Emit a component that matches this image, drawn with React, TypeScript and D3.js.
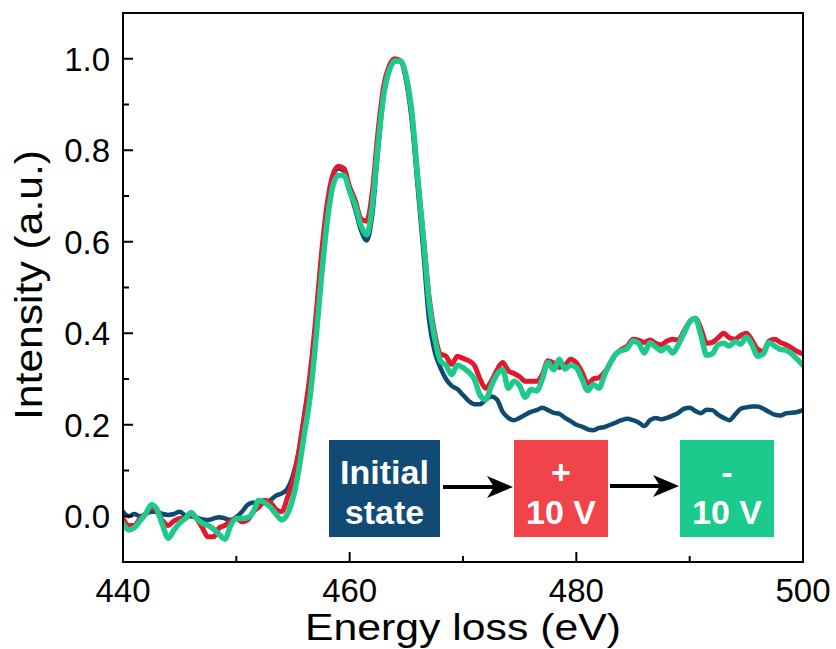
import React from "react";
import * as d3 from "d3";

// Energy grid (eV) shared by the three spectra
const energy = [
  440, 440.5, 441, 441.5, 442, 442.5, 443, 443.5, 444, 444.5, 445, 445.5, 446, 446.5, 447, 447.5,
  448, 448.5, 449, 449.5, 450, 450.5, 451, 451.5, 452, 452.5, 453, 453.5, 454, 454.5, 455, 455.5,
  456, 456.5, 457, 457.5, 458, 458.5, 459, 459.5, 460, 460.5, 461, 461.5, 462, 462.5, 463, 463.5,
  464, 464.5, 465, 465.5, 466, 466.5, 467, 467.5, 468, 468.5, 469, 469.5, 470, 470.5, 471, 471.5,
  472, 472.5, 473, 473.5, 474, 474.5, 475, 475.5, 476, 476.5, 477, 477.5, 478, 478.5, 479, 479.5,
  480, 480.5, 481, 481.5, 482, 482.5, 483, 483.5, 484, 484.5, 485, 485.5, 486, 486.5, 487, 487.5,
  488, 488.5, 489, 489.5, 490, 490.5, 491, 491.5, 492, 492.5, 493, 493.5, 494, 494.5, 495, 495.5,
  496, 496.5, 497, 497.5, 498, 498.5, 499, 499.5, 500,
];

// Normalised intensity, initial state
const initialState = [
  0.01, 0.0, 0.005, 0.0, 0.005, 0.01, 0.01, 0.005, 0.003, 0.005, 0.01, 0.002, 0.0, -0.003, -0.007, -0.008,
  -0.005, -0.002, -0.005, -0.008, -0.002, 0.01, 0.025, 0.03, 0.025, 0.03, 0.035, 0.045, 0.05, 0.06, 0.09, 0.14,
  0.22, 0.3, 0.42, 0.56, 0.67, 0.74, 0.76, 0.755, 0.71, 0.67, 0.625, 0.603, 0.66, 0.8, 0.92, 0.975,
  0.995, 0.995, 0.95, 0.86, 0.72, 0.58, 0.43, 0.36, 0.325, 0.3, 0.285, 0.278, 0.265, 0.252, 0.245, 0.245,
  0.255, 0.262, 0.255, 0.228, 0.215, 0.21, 0.215, 0.222, 0.228, 0.232, 0.237, 0.232, 0.226, 0.224, 0.215, 0.208,
  0.2, 0.196, 0.19, 0.188, 0.193, 0.195, 0.2, 0.205, 0.21, 0.213, 0.21, 0.205, 0.197, 0.21, 0.215, 0.212,
  0.215, 0.22, 0.226, 0.235, 0.237, 0.23, 0.225, 0.233, 0.232, 0.222, 0.215, 0.21, 0.222, 0.235, 0.238, 0.24,
  0.24, 0.235, 0.228, 0.222, 0.22, 0.225, 0.226, 0.228, 0.232,
];

// Normalised intensity after +10 V
const plus10V = [
  -0.005, -0.02, -0.02, -0.005, 0.005, 0.02, 0.01, -0.01, -0.02, -0.01, -0.005, -0.005, 0.005, -0.005, -0.025, -0.045,
  -0.045, -0.025, -0.02, -0.01, -0.005, -0.012, -0.008, 0.01, 0.02, 0.035, 0.03, 0.015, 0.01, 0.04, 0.08, 0.14,
  0.22, 0.31, 0.43, 0.57, 0.68, 0.745, 0.765, 0.76, 0.72, 0.69, 0.65, 0.645, 0.71, 0.84, 0.94, 0.985,
  1.0, 0.995, 0.955, 0.875, 0.74, 0.61, 0.48, 0.4, 0.355, 0.35, 0.332, 0.35, 0.345, 0.34, 0.33, 0.3,
  0.28, 0.295, 0.32, 0.336, 0.318, 0.312, 0.305, 0.295, 0.295, 0.295, 0.31, 0.34, 0.335, 0.325, 0.33, 0.343,
  0.335, 0.315, 0.29, 0.3, 0.303, 0.315, 0.335, 0.355, 0.365, 0.372, 0.387, 0.385, 0.38, 0.385, 0.378, 0.375,
  0.383, 0.387, 0.385, 0.405, 0.425, 0.433, 0.41, 0.378, 0.38, 0.39, 0.4, 0.39, 0.387, 0.395, 0.4, 0.385,
  0.365, 0.36, 0.383, 0.387, 0.38, 0.375, 0.368, 0.36, 0.355,
];

// Normalised intensity after -10 V
const minus10V = [
  -0.015, -0.03, -0.025, -0.01, 0.005, 0.025, 0.015, -0.02, -0.048, -0.03, -0.015, -0.005, 0.008, -0.005, -0.015, -0.02,
  -0.028, -0.04, -0.05, -0.02, -0.005, -0.005, -0.003, 0.01, 0.035, 0.03, 0.02, 0.005, -0.008, 0.005, 0.04, 0.1,
  0.18, 0.26, 0.38, 0.52, 0.64, 0.72, 0.745, 0.745, 0.71, 0.68, 0.635, 0.615, 0.68, 0.81, 0.92, 0.975,
  0.995, 0.995, 0.96, 0.88, 0.74, 0.61, 0.47, 0.39, 0.34, 0.33, 0.31, 0.33, 0.325, 0.315, 0.3, 0.265,
  0.255, 0.285, 0.31, 0.32, 0.28, 0.295, 0.285, 0.26, 0.277, 0.274, 0.3, 0.336, 0.32, 0.343, 0.322, 0.33,
  0.325, 0.3, 0.275, 0.288, 0.28, 0.31, 0.335, 0.355, 0.362, 0.367, 0.383, 0.378, 0.357, 0.379, 0.37, 0.362,
  0.37, 0.357, 0.375, 0.4, 0.425, 0.432, 0.395, 0.352, 0.355, 0.375, 0.378, 0.372, 0.382, 0.376, 0.392, 0.375,
  0.35, 0.355, 0.38, 0.372, 0.365, 0.363, 0.355, 0.343, 0.33,
];

const xTicks = [440, 460, 480, 500];
const xMinorTicks = [450, 470, 490];
const yTicks = [0.0, 0.2, 0.4, 0.6, 0.8, 1.0];
const yMinorTicks = [0.1, 0.3, 0.5, 0.7, 0.9];

const NAVY = "#0f4a72";
const RED = "#e2182f";
const GREEN = "#1dc98b";

const seriesList = [
  { name: "Initial state", values: initialState, color: NAVY, width: 4.5 },
  { name: "+10 V", values: plus10V, color: RED, width: 5 },
  { name: "-10 V", values: minus10V, color: GREEN, width: 5.5 },
];

const W = 836;
const H = 649;
const left = 123;
const right = 803;
const top = 13;
const bottom = 562;

const FONT = "Arial, 'Liberation Sans', Helvetica, sans-serif";

export default function App() {
  const x = d3.scaleLinear().domain([440, 500]).range([left, right]);
  const y = d3.scaleLinear().domain([-0.1, 1.1]).range([bottom, top]);

  const line = d3
    .line<number>()
    .x((_, i) => x(energy[i]))
    .y((v) => y(v))
    .curve(d3.curveMonotoneX);

  const boxY = 440;
  const boxH = 97;
  const boxes = [
    { x0: 329, x1: 440, fill: "#114a74", lines: ["Initial", "state"] },
    { x0: 514, x1: 608, fill: "#f0444a", lines: ["+", "10 V"] },
    { x0: 680, x1: 774, fill: "#1ccb8b", lines: ["-", "10 V"] },
  ];
  const arrows = [
    { x0: 443, x1: 513, y: 487 },
    { x0: 610, x1: 679, y: 486 },
  ];

  return (
    <svg
      width={W}
      height={H}
      viewBox={`0 0 ${W} ${H}`}
      style={{ position: "absolute", left: 0, top: 0, background: "#fff" }}
    >
      <defs>
        <clipPath id="plot-area">
          <rect x={left} y={top} width={right - left} height={bottom - top} />
        </clipPath>
      </defs>

      {/* spectra */}
      <g clipPath="url(#plot-area)">
        {seriesList.map((s) => (
          <path
            key={s.name}
            d={line(s.values) ?? ""}
            fill="none"
            stroke={s.color}
            strokeWidth={s.width}
            strokeLinejoin="round"
            strokeLinecap="round"
          />
        ))}
      </g>

      {/* state legend boxes with arrows */}
      {boxes.map((b, i) => {
        const cx = (b.x0 + b.x1) / 2;
        return (
          <g key={i}>
            <rect x={b.x0} y={boxY} width={b.x1 - b.x0} height={boxH} fill={b.fill} />
            <text
              x={cx}
              y={boxY + 44}
              textAnchor="middle"
              fill="#fff"
              fontFamily={FONT}
              fontWeight="bold"
              fontSize={34}
            >
              {b.lines[0]}
            </text>
            <text
              x={cx}
              y={boxY + 84}
              textAnchor="middle"
              fill="#fff"
              fontFamily={FONT}
              fontWeight="bold"
              fontSize={34}
            >
              {b.lines[1]}
            </text>
          </g>
        );
      })}
      {arrows.map((a, i) => (
        <g key={i}>
          <line x1={a.x0} x2={a.x1 - 16} y1={a.y} y2={a.y} stroke="#000" strokeWidth={4} />
          <path
            d={`M${a.x1},${a.y} L${a.x1 - 26},${a.y - 11} L${a.x1 - 19},${a.y} L${a.x1 - 26},${a.y + 11} Z`}
            fill="#000"
          />
        </g>
      ))}

      {/* frame */}
      <rect
        x={left}
        y={top}
        width={right - left}
        height={bottom - top}
        fill="none"
        stroke="#000"
        strokeWidth={2}
      />

      {/* y axis ticks */}
      {yTicks.map((t) => (
        <g key={`y${t}`}>
          <line x1={left} x2={left + 10} y1={y(t)} y2={y(t)} stroke="#000" strokeWidth={2} />
          <text
            x={left - 13}
            y={y(t)}
            dy="0.36em"
            textAnchor="end"
            fontFamily={FONT}
            fontSize={33}
            fill="#000"
          >
            {d3.format(".1f")(t)}
          </text>
        </g>
      ))}
      {yMinorTicks.map((t) => (
        <line key={`ym${t}`} x1={left} x2={left + 6} y1={y(t)} y2={y(t)} stroke="#000" strokeWidth={2} />
      ))}

      {/* x axis ticks */}
      {xTicks.map((t) => (
        <g key={`x${t}`}>
          <line x1={x(t)} x2={x(t)} y1={bottom} y2={bottom - 10} stroke="#000" strokeWidth={2} />
          <text
            x={x(t)}
            y={bottom + 40}
            textAnchor="middle"
            fontFamily={FONT}
            fontSize={33}
            fill="#000"
          >
            {t}
          </text>
        </g>
      ))}
      {xMinorTicks.map((t) => (
        <line key={`xm${t}`} x1={x(t)} x2={x(t)} y1={bottom} y2={bottom - 6} stroke="#000" strokeWidth={2} />
      ))}

      {/* axis titles */}
      <text
        x={463}
        y={640}
        textAnchor="middle"
        fontFamily={FONT}
        fontSize={37}
        fill="#000"
        textLength={316}
        lengthAdjust="spacingAndGlyphs"
      >
        Energy loss (eV)
      </text>
      <text
        transform="translate(42,285) rotate(-90)"
        textAnchor="middle"
        fontFamily={FONT}
        fontSize={38}
        fill="#000"
        textLength={270}
        lengthAdjust="spacingAndGlyphs"
      >
        Intensity (a.u.)
      </text>
    </svg>
  );
}
